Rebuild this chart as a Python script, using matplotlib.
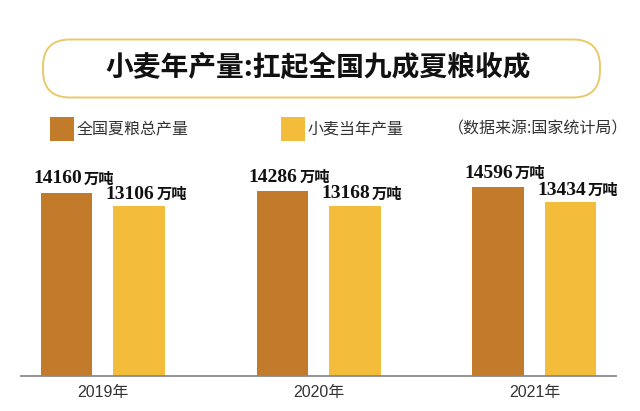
import matplotlib
matplotlib.use("Agg")
import matplotlib.pyplot as plt
from matplotlib.patches import FancyBboxPatch, Rectangle

years = ["2019年", "2020年", "2021年"]
summer_grain = [14160, 14286, 14596]
wheat = [13106, 13168, 13434]
series_names = ["全国夏粮总产量", "小麦当年产量"]
unit = "万吨"
title = "小麦年产量:扛起全国九成夏粮收成"
source = "（数据来源:国家统计局）"

BROWN = "#c27a2b"
YELLOW = "#f3bd3b"
CJK = "Noto Sans CJK SC"

fig = plt.figure(figsize=(6.4, 4.11), dpi=100)
W, H = 640, 411

# background axes in pixel units
bg = fig.add_axes([0, 0, 1, 1])
bg.set_xlim(0, W)
bg.set_ylim(H, 0)
bg.axis("off")

bg.add_patch(FancyBboxPatch((43, 39.5), 557, 58, boxstyle="round,pad=0,rounding_size=27",
                            facecolor="white", edgecolor="#e9c96a", linewidth=1.4))
bg.text(318, 68, title, ha="center", va="center", fontsize=20,
        fontweight="bold", family=[CJK], color="#111111")

# legend
leg_items = [(50, series_names[0], BROWN), (281, series_names[1], YELLOW)]
for x0, name, col in leg_items:
    bg.add_patch(Rectangle((x0, 117), 24, 24, facecolor=col, edgecolor="none"))
    bg.text(x0 + 27, 129, name, ha="left", va="center", fontsize=11.5,
            family=[CJK], color="#333333")
bg.text(448, 129, source, ha="left", va="center", fontsize=11.5,
        family=[CJK], color="#333333")

# bars
ax = fig.add_axes([20.5 / W, 1 - 375.7 / H, (616 - 20.5) / W, (375.7 - 150) / H])
x = range(len(years))
bw = 0.2387
off = 0.168
xs_b = [i - off for i in x]
xs_y = [i + off for i in x]
ax.bar(xs_b, summer_grain, width=bw, color=BROWN)
ax.bar(xs_y, wheat, width=bw, color=YELLOW)
ax.set_xlim(-0.3824, 2.378)
ax.set_ylim(0, 17469)
ax.patch.set_alpha(0)
for s in ["top", "right", "left"]:
    ax.spines[s].set_visible(False)
ax.spines["bottom"].set_color("#8a8a8a")
ax.spines["bottom"].set_linewidth(1.3)
ax.set_yticks([])
ax.set_xticks(list(x))
ax.set_xticklabels(years, family=["Liberation Sans", CJK], fontsize=11.5, color="#333333")
ax.tick_params(axis="x", length=0, pad=7)

def label(xv, v, dy):
    ax.annotate(str(v), (xv, v), xytext=(15, dy), textcoords="offset pixels",
                ha="right", va="center", fontsize=14, fontweight="bold",
                family=["Liberation Serif"], color="#111111")
    ax.annotate(unit, (xv, v), xytext=(17, dy), textcoords="offset pixels",
                ha="left", va="center", fontsize=11, fontweight="bold",
                family=[CJK], color="#111111")

for xv, v in zip(xs_b, summer_grain):
    label(xv, v, 14)
for xv, v in zip(xs_y, wheat):
    label(xv, v, 12)

fig.savefig("out.png", dpi=100, facecolor="white")
